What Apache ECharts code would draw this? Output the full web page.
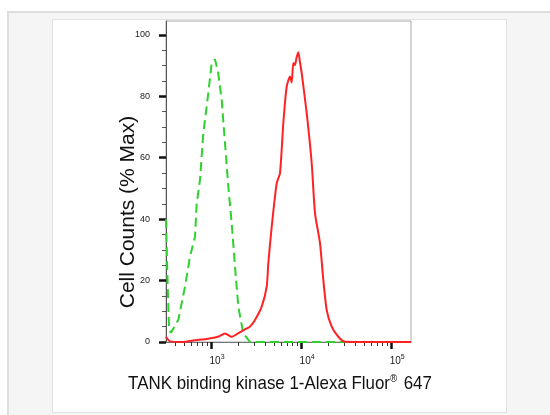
<!DOCTYPE html>
<html>
<head>
<meta charset="utf-8">
<script src="https://cdn.jsdelivr.net/npm/echarts@6/dist/echarts.min.js"></script>
<style>
  html, body { margin: 0; padding: 0; background: #ffffff; }
  #panel { position: absolute; left: 7px; top: 11px; width: 543px; height: 404px;
           background: #f5f5f5; border-left: 2px solid #dedede; border-top: 2px solid #dedede; box-sizing: border-box; }
  #card { position: absolute; left: 52px; top: 19px; width: 455px; height: 394px;
          background: #ffffff; border: 1px solid #e2e2e2; box-sizing: border-box; }
  #chart { position: absolute; left: 0; top: 0; width: 550px; height: 415px; }
</style>
</head>
<body>
<div id="panel"></div>
<div id="card"></div>
<div id="chart"></div>
<script>
// Fluorescence intensity (linear units) and % of max counts
const isotypeIntensity = [316, 329, 342, 359, 433, 514, 584, 664, 693, 754, 821, 932, 1017, 1107, 1195, 1313, 1429, 1555, 1696, 1846, 2008, 2281, 2708, 9727, 30716, 166000];
const isotypeCounts    = [40, 20, 4, 3, 7.2, 18, 27.8, 34.3, 45, 52.8, 68, 81, 90.8, 92, 88, 78.8, 64.7, 50.6, 38.7, 24.5, 11.5, 2.8, 0, 0, 0, 0];

const antibodyIntensity = [316, 350, 488, 631, 895, 1195, 1429, 1696, 1993, 2489, 2708, 3077, 3652, 4150, 4323, 4715, 5358, 5831, 6344, 6921, 7528, 7864, 8190, 8554, 8889, 9310, 9727, 10153, 11537, 13111, 14267, 16212, 17641, 19239, 21862, 25882, 30716, 166000];
const antibodyCounts    = [1.7, 0.2, 0, 0.5, 1, 1.7, 2.8, 1.7, 2.8, 4.4, 5, 7.2, 11.5, 18, 25.6, 37.5, 51.7, 55, 71.2, 83.2, 86.4, 84.5, 90.8, 90.2, 92.5, 94.3, 91, 87.5, 74.5, 58.2, 41.9, 32.2, 20.2, 10.4, 5, 1.7, 0.1, 0];

const xMajorTicks = [1000, 10000, 100000];
const xMinorTicks = [400, 500, 600, 700, 800, 900,
                     2000, 3000, 4000, 5000, 6000, 7000, 8000, 9000,
                     20000, 30000, 40000, 50000, 60000, 70000, 80000, 90000];
const yLabelValues = [0, 20, 40, 60, 80, 100];
const yMinorTicks = [0, 5, 10, 15, 20, 25, 30, 35, 40, 45, 50, 55, 60, 65, 70, 75, 80, 85, 90, 95, 100];

const yTitle = 'Cell Counts (% Max)';
const xTitleMain = 'TANK binding kinase 1-Alexa Fluor';
const xTitleSup = '®';
const xTitleEnd = ' 647';

const lg = v => Math.log10(v);
const pairs = (xs, ys) => xs.map((x, i) => [lg(x), ys[i]]);

const narrow = '"Liberation Sans Narrow", "Arial Narrow", "Liberation Sans", Arial, sans-serif';

const chart = echarts.init(document.getElementById('chart'), null, { renderer: 'canvas' });
chart.setOption({
  backgroundColor: 'transparent',
  animation: false,
  grid: { left: 166, right: 139, top: 21, bottom: 73, show: true, borderColor: '#a8a8a8', borderWidth: 1, backgroundColor: 'transparent' },
  xAxis: [
    {
      type: 'value', min: 2.5, max: 5.22, position: 'bottom',
      axisLine: { show: true, lineStyle: { color: '#777', width: 1 } },
      splitLine: { show: false },
      axisTick: { show: true, customValues: xMinorTicks.map(lg), length: 4, lineStyle: { color: '#333', width: 1 } },
      axisLabel: {
        show: true, customValues: xMajorTicks.map(lg), margin: 12, padding: [0, 0, 0, 12],
        formatter: v => '{b|10}{s|' + Math.round(v) + '}',
        rich: {
          b: { fontSize: 10, fontFamily: narrow, color: '#222', lineHeight: 12, verticalAlign: 'bottom' },
          s: { fontSize: 7, fontFamily: narrow, color: '#222', lineHeight: 12, verticalAlign: 'top', padding: [0, 0, 6, 0] }
        }
      }
    },
    {
      type: 'value', min: 2.5, max: 5.22, position: 'bottom',
      axisLine: { show: false },
      splitLine: { show: false },
      axisTick: { show: true, customValues: xMajorTicks.map(lg), length: 7, lineStyle: { color: '#111', width: 2.5 } },
      axisLabel: { show: false }
    }
  ],
  yAxis: [
    {
      type: 'value', min: 0, max: 104.5, position: 'left',
      axisLine: { show: true, lineStyle: { color: '#555', width: 1 } },
      splitLine: { show: false },
      axisTick: { show: true, customValues: yMinorTicks, length: 4, lineStyle: { color: '#555', width: 1 } },
      axisLabel: { show: true, customValues: yLabelValues, margin: 16, fontSize: 9, fontFamily: narrow, color: '#222' }
    },
    {
      type: 'value', min: 0, max: 104.5, position: 'left',
      axisLine: { show: false },
      splitLine: { show: false },
      axisTick: { show: true, customValues: yLabelValues, length: 7, lineStyle: { color: '#111', width: 2.5 } },
      axisLabel: { show: false }
    }
  ],
  series: [
    {
      name: 'Isotype', type: 'line', xAxisIndex: 0, yAxisIndex: 0, showSymbol: false, symbol: 'none', z: 2,
      data: pairs(isotypeIntensity, isotypeCounts),
      lineStyle: { color: '#2ed12e', width: 2, type: [9, 5] }
    },
    {
      name: 'TBK1', type: 'line', xAxisIndex: 0, yAxisIndex: 0, showSymbol: false, symbol: 'none', z: 3,
      smooth: 0.2,
      data: pairs(antibodyIntensity, antibodyCounts),
      lineStyle: { color: '#ff2222', width: 2 }
    }
  ],
  graphic: [
    {
      type: 'text', x: 128, y: 212, rotation: Math.PI / 2,
      style: { text: yTitle, font: '21px "Liberation Sans", Arial, sans-serif', fill: '#111', align: 'center', verticalAlign: 'middle' }
    },
    {
      type: 'text', x: 280, y: 384, scaleX: 0.89,
      style: {
        text: '{a|' + xTitleMain + '}{r|' + xTitleSup + '}{a|' + xTitleEnd + '}',
        align: 'center', verticalAlign: 'middle',
        rich: {
          a: { fontSize: 19, fontFamily: '"Liberation Sans", Arial, sans-serif', fill: '#111', lineHeight: 22 },
          r: { fontSize: 11, fontFamily: '"Liberation Sans", Arial, sans-serif', fill: '#111', lineHeight: 22, verticalAlign: 'top', padding: [0, 2, 8, 0] }
        }
      }
    }
  ]
});
</script>
</body>
</html>
